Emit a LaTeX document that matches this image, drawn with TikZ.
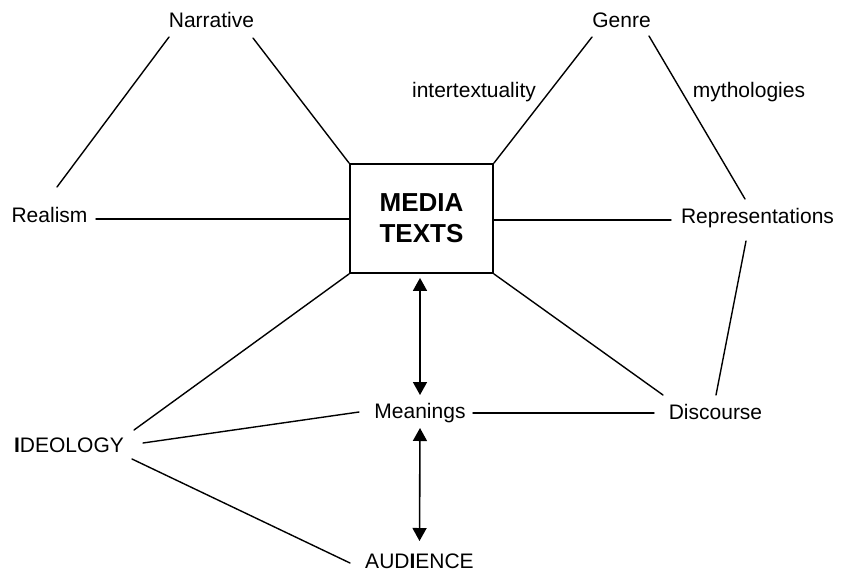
\documentclass[tikz,border=0pt]{standalone}
\usepackage{fontspec}
\setmainfont{Liberation Sans}
\usetikzlibrary{arrows.meta}

\begin{document}
\begin{tikzpicture}[x=1pt,y=-1pt,
  label/.style={inner sep=0pt,anchor=base,font=\fontsize{21}{25}\selectfont},
  link/.style={line width=1.4pt,line cap=round},
  twoway/.style={line width=1.6pt,{Triangle[width=14pt,length=13pt]}-{Triangle[width=14pt,length=13pt]}},
  centrebox/.style={draw,line width=1.8pt,minimum width=143pt,minimum height=109pt,inner sep=0pt,
    align=center,font=\fontsize{26}{31}\selectfont\bfseries}]
  \useasboundingbox (0,0) rectangle (841,571);

  % central box
  \node[centrebox] (box) at (421.5,218.5) {MEDIA\\TEXTS};

  % concept labels
  \node[label] (narr) at (211.5,27) {Narrative};
  \node[label] (genre) at (621.5,27) {Genre};
  \node[label] (inter) at (474,97) {intertextuality};
  \node[label] (myth) at (749,97) {mythologies};
  \node[label] (realism) at (49.5,222) {Realism};
  \node[label] (repr) at (757.5,223) {Representations};
  \node[label] (mean) at (420,418) {Meanings};
  \node[label] (disc) at (715.5,419) {Discourse};
  \node[label] (ideo) at (69,452) {\textbf{I}DEOLOGY};
  \node[label] (aud) at (419.5,568) {AUD\textbf{I}ENCE};

  % connector end points beside the labels
  \coordinate (narrL) at (169,37);
  \coordinate (narrR) at (253,38);
  \coordinate (realT) at (57,187);
  \coordinate (realR) at (96,219);
  \coordinate (genL) at (592,37);
  \coordinate (genR) at (649,36);
  \coordinate (repT) at (745,199);
  \coordinate (repL) at (671,220);
  \coordinate (repB) at (746,241);
  \coordinate (discT) at (716,395);
  \coordinate (discTL) at (663,395);
  \coordinate (discL) at (654,413);
  \coordinate (meanR) at (473,413);
  \coordinate (meanL) at (359,412);
  \coordinate (ideoT) at (134,430);
  \coordinate (ideoR) at (143,443);
  \coordinate (ideoB) at (132,459);
  \coordinate (audL) at (350,563);

  % connectors
  \draw[link] (narrL) -- (realT);
  \draw[link] (narrR) -- (box.north west);
  \draw[link] (realR) -- (box.west |- realR);
  \draw[link] (genL) -- (box.north east);
  \draw[link] (genR) -- (repT);
  \draw[link] (box.east |- repL) -- (repL);
  \draw[link] (repB) -- (discT);
  \draw[link] (box.south east) -- (discTL);
  \draw[link] (meanR) -- (discL);
  \draw[link] (box.south west) -- (ideoT);
  \draw[link] (ideoR) -- (meanL);
  \draw[link] (ideoB) -- (audL);

  % two-way arrows (shifts are in page units, positive = upwards)
  \draw[twoway] ([yshift=-4pt]box.south -| mean) -- ([yshift=23pt]mean.base);
  \draw[twoway] ([yshift=-10pt]mean.base) -- ([yshift=27pt]aud.base);
\end{tikzpicture}
\end{document}
